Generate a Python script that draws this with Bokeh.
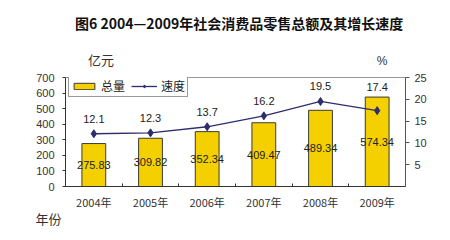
from bokeh.plotting import figure
from bokeh.layouts import column
from bokeh.models import (Range1d, LinearAxis, FixedTicker, Label, Legend, LegendItem,
                          ColumnDataSource, Title)
from bokeh.core.properties import value
from bokeh.embed import file_html
from bokeh.resources import INLINE

years = ["2004年", "2005年", "2006年", "2007年", "2008年", "2009年"]
totals = [275.83, 309.82, 352.34, 409.47, 489.34, 574.34]
speeds = [12.1, 12.3, 13.7, 16.2, 19.5, 17.4]
total_labels = ["275.83", "309.82", "352.34", "409.47", "489.34", "574.34"]
speed_labels = ["12.1", "12.3", "13.7", "16.2", "19.5", "17.4"]
left_ticks = [0, 100, 200, 300, 400, 500, 600, 700]
right_ticks = [5, 10, 15, 20, 25]
title_text = "图6  2004—2009年社会消费品零售总额及其增长速度"

LMAX, RMAX = 700, 25
idx = list(range(len(years)))
src = ColumnDataSource(dict(
    x=idx, total=totals, half=[t / 2 for t in totals], speed=speeds,
    sly=[max(s, t * RMAX / LMAX - 1.2) for s, t in zip(speeds, totals)],
    tl=total_labels, sl=speed_labels))

CJK = "Noto Sans CJK SC"
NUM = "Liberation Sans"
W, HT = 450, 68

# ---- header figure (title and unit labels) ----
h = figure(width=W, height=HT, output_backend="svg", toolbar_location=None,
           x_range=Range1d(0, W), y_range=Range1d(HT, 0),
           x_axis_type=None, y_axis_type=None, min_border=0)
h.title.visible = False
h.xgrid.visible = False
h.ygrid.visible = False
h.outline_line_color = None
h.add_layout(Label(x=232, y=22, text=title_text,
                   text_font=CJK, text_font_style="bold", text_font_size="14px",
                   text_align="center", text_baseline="middle", text_color="#111111"))
h.add_layout(Label(x=47, y=59, text="亿元",
                   text_font=CJK, text_font_size="13px", text_align="center",
                   text_baseline="middle", text_color="#333333"))
h.add_layout(Label(x=419, y=60, text="%",
                   text_font=NUM, text_font_size="12px", text_align="center",
                   text_baseline="middle", text_color="#333333"))

# ---- chart figure ----
p = figure(width=W, height=240 - HT, output_backend="svg", toolbar_location=None,
           x_range=Range1d(-0.5, len(years) - 0.5), y_range=Range1d(0, LMAX),
           min_border_left=65, min_border_right=45, min_border_top=77 - HT, min_border_bottom=54)
p.title.visible = False
p.extra_y_ranges = {"pct": Range1d(0, RMAX)}
p.xgrid.visible = False
p.ygrid.visible = False
p.outline_line_color = "#999999"

p.xaxis.ticker = FixedTicker(ticks=idx, minor_ticks=[i + 0.5 for i in idx[:-1]])
p.xaxis.major_label_overrides = {i: y for i, y in zip(idx, years)}
p.xaxis.major_tick_line_color = None
p.xaxis.minor_tick_in = 3
p.xaxis.minor_tick_out = 0
p.xaxis.minor_tick_line_color = "#333333"
p.xaxis.axis_line_color = "#333333"
p.xaxis.major_label_text_font = CJK
p.xaxis.major_label_text_font_size = "11px"
p.xaxis.major_label_text_color = "#333333"
p.xaxis.major_label_standoff = 1

p.yaxis.ticker = FixedTicker(ticks=left_ticks)
p.yaxis.major_tick_out = 3
p.yaxis.major_tick_in = 0
p.yaxis.minor_tick_line_color = None
p.yaxis.axis_line_color = "#333333"
p.yaxis.major_tick_line_color = "#333333"
p.yaxis.major_label_text_font = NUM
p.yaxis.major_label_text_font_size = "11px"
p.yaxis.major_label_text_color = "#333333"
p.yaxis.major_label_standoff = 8

ra = LinearAxis(y_range_name="pct", ticker=FixedTicker(ticks=right_ticks))
ra.major_tick_out = 4
ra.major_tick_in = 0
ra.minor_tick_line_color = None
ra.axis_line_color = "#555555"
ra.major_tick_line_color = "#555555"
ra.major_label_text_font = NUM
ra.major_label_text_font_size = "11px"
ra.major_label_text_color = "#333333"
ra.major_label_standoff = 5
p.add_layout(ra, "right")

p.add_layout(Title(text="年份", align="left", offset=-30, standoff=-30,
                   text_line_height=0.5,
                   text_font=CJK, text_font_size="13px", text_font_style="normal",
                   text_color="#333333"), "below")

bars = p.vbar(x="x", top="total", width=0.42, source=src, fill_color="#F4D000",
              line_color="#3a3a3a", line_width=1)
ln = p.line(x="x", y="speed", y_range_name="pct", source=src, line_color="#2D2D6E", line_width=1.3)
pts = p.scatter(x="x", y="speed", y_range_name="pct", source=src, marker="diamond",
                size=8, fill_color="#2D2D6E", line_color="#2D2D6E")

p.text(x="x", y="half", text="tl", source=src, text_align="center", text_baseline="middle",
       text_font=value(NUM), text_font_size="11px", text_color="#222222")
p.text(x="x", y="sly", text="sl", y_range_name="pct", source=src, text_align="center",
       text_baseline="middle", y_offset=-15,
       text_font=value(NUM), text_font_size="11px", text_color="#222222")

legend = Legend(items=[LegendItem(label="总量", renderers=[bars]),
                       LegendItem(label="速度", renderers=[ln, pts])],
                orientation="horizontal", location=(3, 89),
                label_text_font=CJK, label_text_font_size="12px", label_text_color="#222222",
                glyph_width=26, glyph_height=8, label_height=16, label_standoff=4, spacing=6,
                padding=2, margin=0, border_line_color="#333333", border_line_width=1,
                background_fill_alpha=1)
p.add_layout(legend, "center")

layout = column(h, p, spacing=0)
open("out.html", "w").write(file_html(layout, INLINE))
